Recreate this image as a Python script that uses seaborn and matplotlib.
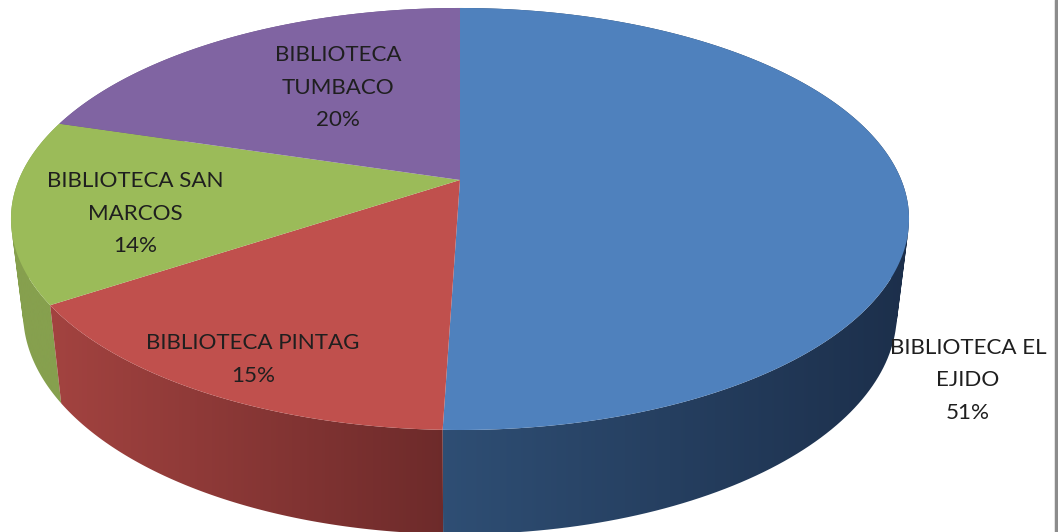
import numpy as np
import matplotlib
matplotlib.use('Agg')
import matplotlib.pyplot as plt
from matplotlib.colors import LinearSegmentedColormap
from matplotlib.patches import PathPatch
from matplotlib.path import Path
import seaborn as sns

names = ['BIBLIOTECA EL\nEJIDO', 'BIBLIOTECA PINTAG', 'BIBLIOTECA SAN\nMARCOS', 'BIBLIOTECA\nTUMBACO']
shares = [50.51, 15.19, 14.0, 20.3]
top_colors = ['#4F81BD', '#C0504D', '#9BBB59', '#8064A2']
# side shading, left end then right end of each slice
side_left = ['#2F4F75', '#A34340', '#86A04E', '#6A5388']
side_right = ['#1C2F4B', '#6C2A2A', '#86A04E', '#6A5388']
label_x = [968, 253, 135, 338]
label_y = [380.5, 359.5, 213.5, 87.5]

sns.set_theme(style='white')
plt.rcParams['font.family'] = ['Lato', 'DejaVu Sans']

fig, ax = plt.subplots(figsize=(10.58, 5.32), dpi=100)
ax.set_position([0, 0, 1, 1])
ax.set_xlim(0, 1058)
ax.set_ylim(532, 0)
ax.axis('off')

# perspective of the pie plane, fitted to the picture
cx, cy = 460, 180
a, b, p = 441.3, 203.8, 0.1848


def top_point(frac):
    t = 2 * np.pi * np.asarray(frac)
    u, v = np.sin(t), np.cos(t)
    d = 1 + p * v
    return cx + a * u / d, cy - b * v / d


def bottom_point(frac):
    x, y = top_point(frac)
    return cx + 0.973 * (x - cx), 219 + 94 + 1.048 * (y - 219)


def side_path(fr):
    # thin strips, all wound the same way so their union stays filled
    xt, yt = top_point(fr)
    xb, yb = bottom_point(fr)
    strips = []
    for k in range(len(fr) - 1):
        q = np.array([[xt[k], yt[k]], [xt[k + 1], yt[k + 1]], [xb[k + 1], yb[k + 1]], [xb[k], yb[k]], [xt[k], yt[k]]])
        area = np.sum(q[:-1, 0] * q[1:, 1] - q[1:, 0] * q[:-1, 1])
        if area < 0:
            q = q[::-1]
        strips.append(Path(q, closed=True))
    return Path.make_compound_path(*strips), xb.min(), xb.max()


edges = np.cumsum([0] + shares) / sum(shares)

# sides first, the top face covers the hidden parts
for i in [0, 3, 2, 1]:
    fr = np.linspace(edges[i], edges[i + 1], 160)
    path, x0, x1 = side_path(fr)
    patch = PathPatch(path, facecolor='none', edgecolor='none')
    ax.add_patch(patch)
    cmap = LinearSegmentedColormap.from_list('side', [side_left[i], side_right[i]])
    img = ax.imshow(np.linspace(0, 1, 256)[None, :], extent=[x0 - 12, x1 + 12, 540, 0],
                    cmap=cmap, aspect='auto', zorder=1)
    img.set_clip_path(patch)

for i in range(len(shares)):
    fr = np.linspace(edges[i], edges[i + 1], 200)
    xt, yt = top_point(fr)
    ax.fill(np.r_[cx, xt], np.r_[cy, yt], color=top_colors[i], lw=0, zorder=2)

ax.set_xlim(0, 1058)
ax.set_ylim(532, 0)

for i in range(len(shares)):
    ax.text(label_x[i], label_y[i], f'{names[i]}\n{shares[i]:.0f}%',
            ha='center', va='center', fontsize=16.1, color='#1f1f1f',
            linespacing=1.8, zorder=3)

# frame line of the pasted picture
ax.axvline(1055.5, color='#8c8c8c', lw=2.5, zorder=4)

fig.savefig('out.png', dpi=100)
